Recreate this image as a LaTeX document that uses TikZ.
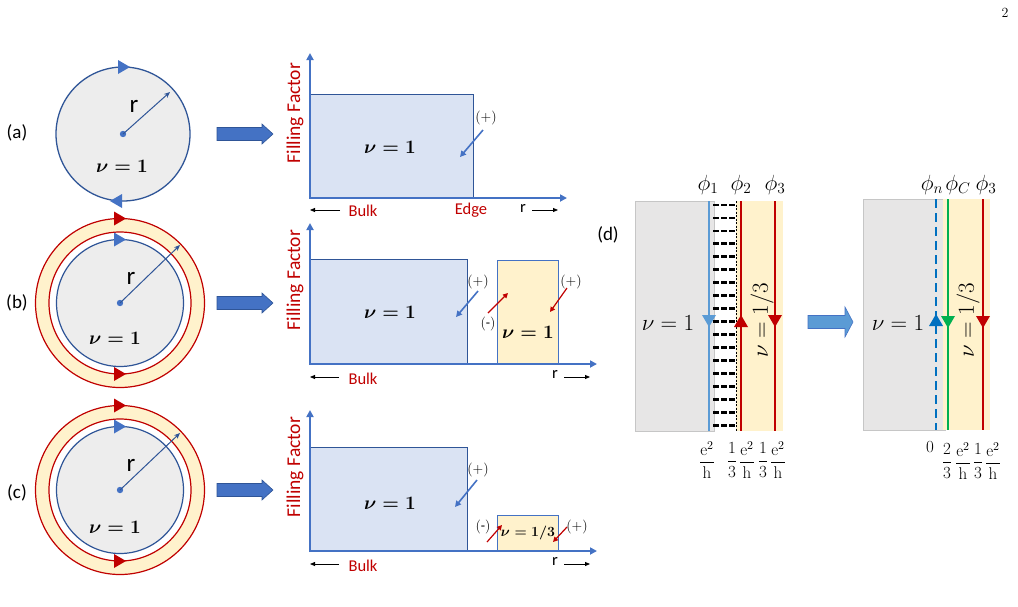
\RequirePackage{fix-cm}
\documentclass[tikz,border=0pt]{standalone}
\usepackage{amsmath}
\usepackage[no-math]{fontspec}
\setmainfont{Carlito}
\usetikzlibrary{arrows.meta}
\definecolor{dblue}{HTML}{2F5597}
\definecolor{mblue}{HTML}{4472C4}
\definecolor{lblue}{HTML}{5B9BD5}
\definecolor{bfill}{HTML}{DAE3F3}
\definecolor{yfill}{HTML}{FFF2CC}
\definecolor{dred}{HTML}{C00000}
\definecolor{cgray}{HTML}{EDEDED}
\definecolor{dgray}{HTML}{E7E6E6}
\definecolor{pblue}{HTML}{0070C0}
\definecolor{pgreen}{HTML}{00B050}
\newcommand\setfs[1]{\fontsize{#1}{#1}\selectfont}
\tikzset{
  every node/.style={inner sep=0pt},
  tri/.pic={\fill (-6,-7) -- (6,0) -- (-6,7) -- cycle;},
  blockarrow/.pic={\filldraw[fill=mblue, draw=dblue, line width=0.6pt] (0,-6.5) -- (45,-6.5) -- (45,-10) -- (56,0) -- (45,10) -- (45,6.5) -- (0,6.5) -- cycle;},
  cal/.style={font=\setfs{19}},
  rlab/.style={font=\setfs{25}},
  ff/.style={font=\setfs{19.5}, text=dred, rotate=90},
  bulk/.style={font=\setfs{16.5}, text=dred},
  rsm/.style={font=\setfs{16.5}},
  bnu/.style={font=\setfs{19}\boldmath},
  pm/.style={font=\setfs{14}},
  axis/.style={mblue, line width=2pt, -{Triangle[length=7pt,width=7pt]}},
  smallarr/.style={line width=0.8pt, -{Triangle[length=5pt,width=4pt]}},
  barr/.style={mblue, line width=1.6pt, -{Triangle[length=6pt,width=6pt]}},
  rarr/.style={dred, line width=1.2pt, -{Triangle[length=5pt,width=5pt]}},
  radarr/.style={dblue, line width=1pt, -{Stealth[length=6pt,width=5pt]}},
  recty/.style={fill=yfill, draw=mblue, line width=0.8pt},
  dnu/.style={font=\setfs{23}},
  phil/.style={font=\setfs{22}},
  frl/.style={font=\setfs{17}},
}
\begin{document}
\begin{tikzpicture}[x=1pt,y=-1pt]
\useasboundingbox (0,0) rectangle (1018,606);
\node[font=\setfs{14}] (pg) at (1005,13) {$2$};

% ---------------- (a) circle
\filldraw[fill=cgray, draw=dblue, line width=1.3pt] (123,134) circle (67);
\pic[mblue] at (124,67) {tri};
\pic[mblue, rotate=180] at (116,201) {tri};
\fill[mblue] (123,134) circle (3.2);
\coordinate (ca) at (123,134);
\coordinate (cae) at (170,92);
\draw[radarr] (ca) -- (cae);
\node[rlab] (ra) at (134,106) {r};
\node[cal] (la) at (17,133) {(a)};
\node[bnu] (nua) at (122,166) {$\nu = 1$};
\pic at (217,134) {blockarrow};

% ---------------- (b) circle
\fill[yfill, draw=dred, line width=1.2pt] (120,303) circle (84.5);
\filldraw[fill=white, draw=dred, line width=1.2pt] (120,303) circle (71);
\filldraw[fill=cgray, draw=dblue, line width=1.2pt] (120,303) circle (63.5);
\pic[dred] at (120,218.5) {tri};
\pic[mblue] at (120,239.5) {tri};
\pic[dred] at (120,374) {tri};
\fill[mblue] (120,303) circle (3.2);
\coordinate (cb) at (120,303);
\coordinate (cbe) at (180,245);
\draw[radarr] (cb) -- (cbe);
\node[rlab] (rb) at (131,278) {r};
\node[cal] (lb) at (17,303) {(b)};
\node[bnu] (nub) at (115,338) {$\nu = 1$};
\pic at (217,303) {blockarrow};

% ---------------- (c) circle
\fill[yfill, draw=dred, line width=1.2pt] (120,490) circle (84.5);
\filldraw[fill=white, draw=dred, line width=1.2pt] (120,490) circle (71);
\filldraw[fill=cgray, draw=dblue, line width=1.2pt] (120,490) circle (63.5);
\pic[dred] at (120,405.5) {tri};
\pic[mblue] at (120,426.5) {tri};
\pic[dred] at (120,561) {tri};
\fill[mblue] (120,490) circle (3.2);
\coordinate (cc) at (120,490);
\coordinate (cce) at (180,433);
\draw[radarr] (cc) -- (cce);
\node[rlab] (rc) at (131,465) {r};
\node[cal] (lc) at (17,493) {(c)};
\node[bnu] (nuc) at (115,527) {$\nu = 1$};
\pic at (217,490) {blockarrow};

% ---------------- plot (a)
\fill[bfill] (310,94) rectangle (473,198);
\draw[dblue, line width=0.8pt] (310,94) -- (473,94) -- (473,198);
\draw[axis] (310,199) -- (310,53);
\draw[axis] (309,198) -- (567,198);
\node[ff] (ffa) at (295,113) {Filling Factor};
\node[bnu] (pnua) at (390,147) {$\nu = 1$};
\node[pm] (ppa) at (486,118) {$(+)$};
\coordinate (pa1) at (483,130); \coordinate (pa2) at (460,157);
\draw[barr] (pa1) -- (pa2);
\coordinate (bka1) at (340,210); \coordinate (bka2) at (310,210);
\draw[smallarr] (bka1) -- (bka2);
\node[bulk] (bka) at (363,211) {Bulk};
\node[bulk] (eda) at (471,210) {Edge};
\node[rsm] (rra) at (523,208) {r};
\coordinate (ra1) at (532,210); \coordinate (ra2) at (558,210);
\draw[smallarr] (ra1) -- (ra2);

% ---------------- plot (b)
\fill[bfill] (310,259) rectangle (467,364);
\draw[dblue, line width=0.8pt] (310,259) -- (467,259) -- (467,364);
\draw[recty] (497,364) rectangle (558,260);
\draw[axis] (310,365) -- (310,223);
\draw[axis] (309,364) -- (597,364);
\node[ff] (ffb) at (295,280) {Filling Factor};
\node[bnu] (pnub) at (390,312) {$\nu = 1$};
\node[bnu] (pnub2) at (528,332) {$\nu = 1$};
\node[pm] (ppb) at (478,282) {$(+)$};
\coordinate (pb1) at (478,291); \coordinate (pb2) at (456,317);
\draw[barr] (pb1) -- (pb2);
\node[pm] (pmb) at (488,324) {$(\text{-})$};
\coordinate (mb1) at (488,313); \coordinate (mb2) at (508,293);
\draw[rarr] (mb1) -- (mb2);
\node[pm] (ppb2) at (571,282) {$(+)$};
\coordinate (qb1) at (567,288); \coordinate (qb2) at (550,312);
\draw[rarr] (qb1) -- (qb2);
\coordinate (bkb1) at (339,377); \coordinate (bkb2) at (310,377);
\draw[smallarr] (bkb1) -- (bkb2);
\node[bulk] (bkb) at (363,379) {Bulk};
\node[rsm] (rrb) at (555,374) {r};
\coordinate (rb1) at (564,377); \coordinate (rb2) at (590,377);
\draw[smallarr] (rb1) -- (rb2);

% ---------------- plot (c)
\fill[bfill] (310,447) rectangle (467,551);
\draw[dblue, line width=0.8pt] (310,447) -- (467,447) -- (467,551);
\draw[recty] (497,551) rectangle (558,515);
\draw[axis] (310,552) -- (310,410);
\draw[axis] (309,551) -- (597,551);
\node[ff] (ffc) at (295,467) {Filling Factor};
\node[bnu] (pnuc) at (390,503) {$\nu = 1$};
\node[font=\setfs{14}\boldmath] (pnuc2) at (528,533) {$\nu = 1/3$};
\node[pm] (ppc) at (478,470) {$(+)$};
\coordinate (pc1) at (477,480); \coordinate (pc2) at (455,507);
\draw[barr] (pc1) -- (pc2);
\node[pm] (pmc) at (483,527) {$(\text{-})$};
\coordinate (mc1) at (487,542); \coordinate (mc2) at (502,525);
\draw[rarr] (mc1) -- (mc2);
\node[pm] (ppc2) at (577,527) {$(+)$};
\coordinate (qc1) at (567,527); \coordinate (qc2) at (553,542);
\draw[rarr] (qc1) -- (qc2);
\coordinate (bkc1) at (339,564); \coordinate (bkc2) at (310,564);
\draw[smallarr] (bkc1) -- (bkc2);
\node[bulk] (bkc) at (363,566) {Bulk};
\node[rsm] (rrc) at (555,561) {r};
\coordinate (rc1) at (564,564); \coordinate (rc2) at (590,564);
\draw[smallarr] (rc1) -- (rc2);

% ---------------- (d) left panel
\node[cal] (ld) at (608,235) {(d)};
\filldraw[fill=dgray, draw=gray!45, line width=0.5pt] (635,201) rectangle (714,431);
\fill[yfill] (736,201) rectangle (783,431);
\draw[black, line width=0.8pt, dash pattern=on 2pt off 1.5pt] (736,201) -- (736,431);
\foreach \yy in {0,...,17} {
  \draw[black, line width=2.8pt, dash pattern=on 6pt off 2.2pt] (713,{205+\yy*12.95}) -- (735,{205+\yy*12.95});
}
\draw[lblue, line width=2.5pt] (709,201) -- (709,431);
\draw[dred, line width=2.5pt] (741,201) -- (741,431);
\draw[dred, line width=2.5pt] (775,201) -- (775,431);
\pic[lblue, rotate=-90] at (709,321) {tri};
\pic[dred, rotate=90] at (741,321) {tri};
\pic[dred, rotate=-90] at (775,321) {tri};
\node[phil] (p1) at (708,185) {$\phi_1$};
\node[phil] (p2) at (741,185) {$\phi_2$};
\node[phil] (p3) at (775,185) {$\phi_3$};
\node[dnu] (dnu1) at (668,323) {$\nu = 1$};
\node[dnu, rotate=90] (dnu2) at (762,320) {$\nu = 1/3$};
\node[frl] (f1) at (707,460) {$\dfrac{\mathrm{e}^2}{\mathrm{h}}$};
\node[frl] (f2) at (732,460) {$\dfrac{1}{3}$};
\node[frl] (f3) at (747,460) {$\dfrac{\mathrm{e}^2}{\mathrm{h}}$};
\node[frl] (f4) at (763,460) {$\dfrac{1}{3}$};
\node[frl] (f5) at (778,460) {$\dfrac{\mathrm{e}^2}{\mathrm{h}}$};

% middle arrow
\filldraw[fill=lblue, draw=mblue, line width=0.6pt] (808,315.5) -- (845,315.5) -- (845,307) -- (853,322) -- (845,337) -- (845,328.5) -- (808,328.5) -- cycle;

% ---------------- (d) right panel
\filldraw[fill=dgray, draw=gray!45, line width=0.5pt] (863,199) rectangle (945,430);
\fill[yfill] (943,199) rectangle (990,430);
\draw[pblue, line width=2.2pt, dash pattern=on 9pt off 5pt] (936,199) -- (936,430);
\draw[pgreen, line width=2.5pt] (948,199) -- (948,430);
\draw[dred, line width=2.5pt] (983,199) -- (983,430);
\pic[pblue, rotate=90] at (936,320) {tri};
\pic[pgreen, rotate=-90] at (948,322) {tri};
\pic[dred, rotate=-90] at (983,322) {tri};
\node[phil] (q1) at (932,185) {$\phi_n$};
\node[phil] (q2) at (958,185) {$\phi_C$};
\node[phil] (q3) at (986,185) {$\phi_3$};
\node[dnu] (enu1) at (898,323) {$\nu = 1$};
\node[dnu, rotate=90] (enu2) at (968,320) {$\nu = 1/3$};
\node[frl] (g0) at (930,447) {$0$};
\node[frl] (g1) at (947,461) {$\dfrac{2}{3}$};
\node[frl] (g2) at (963,461) {$\dfrac{\mathrm{e}^2}{\mathrm{h}}$};
\node[frl] (g3) at (978,461) {$\dfrac{1}{3}$};
\node[frl] (g4) at (993,461) {$\dfrac{\mathrm{e}^2}{\mathrm{h}}$};
\end{tikzpicture}
\end{document}
